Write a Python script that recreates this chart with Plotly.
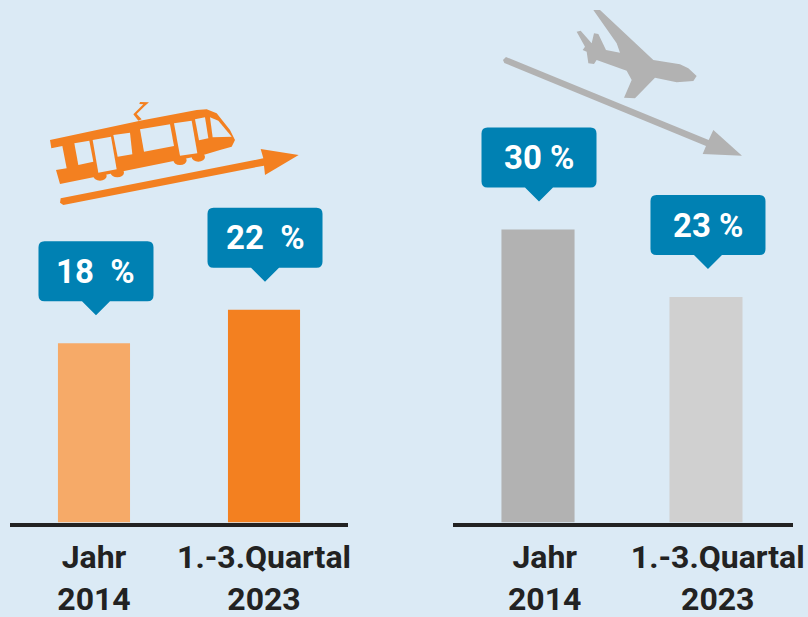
import plotly.graph_objects as go

CATEGORIES = ["Jahr<br>2014", "1.-3.Quartal<br>2023"]
RAIL_VALUES = [18.3, 21.7]
AIR_VALUES = [29.9, 23.0]
RAIL_LABELS = ["18  %", "22  %"]
AIR_LABELS = ["30 %", "23 %"]
RAIL_COLORS = ["#f6aa68", "#f38020"]
AIR_COLORS = ["#b2b2b2", "#d0d0d0"]

W, H = 808, 617
BG = "#dbeaf5"
BLUE = "#0081b3"
ORANGE = "#f38020"
GREY = "#b2b2b2"
INK = "#222222"
FONT = "Roboto"
BASE = 522.5
YMAX = BASE / 9.8


def paper(px, py):
    return px / W, 1 - py / H


def zoom_poly(points, ox, oy):
    parts = []
    for i, (zx, zy) in enumerate(points):
        x, y = paper(ox + zx / 3, oy + zy / 3)
        parts.append(("M" if i == 0 else "L") + f"{x:.5f},{y:.5f}")
    return " ".join(parts) + " Z"


def poly_shape(points, ox, oy, color):
    return dict(type="path", xref="paper", yref="paper", path=zoom_poly(points, ox, oy),
                fillcolor=color, line=dict(width=0), layer="below")


def ellipse(cx, cy, rx, ry, ox, oy, color):
    x0, y0 = paper(ox + (cx - rx) / 3, oy + (cy - ry) / 3)
    x1, y1 = paper(ox + (cx + rx) / 3, oy + (cy + ry) / 3)
    return dict(type="circle", xref="paper", yref="paper", x0=x0, x1=x1, y0=y0, y1=y1,
                fillcolor=color, line=dict(width=0), layer="below")


def callout(xref, yref, idx, value, dx):
    t, hw, r = 28, 57.5, 6
    b = t + 14
    top = b + 60
    path = (f"M{dx-hw+r},{top} L{dx+hw-r},{top} Q{dx+hw},{top} {dx+hw},{top-r} "
            f"L{dx+hw},{b+r} Q{dx+hw},{b} {dx+hw-r},{b} L{dx+14},{b} L{dx},{t} L{dx-14},{b} "
            f"L{dx-hw+r},{b} Q{dx-hw},{b} {dx-hw},{b+r} L{dx-hw},{top-r} Q{dx-hw},{top} {dx-hw+r},{top} Z")
    return dict(type="path", xref=xref, yref=yref, xsizemode="pixel", ysizemode="pixel",
                xanchor=idx, yanchor=value, path=path, fillcolor=BLUE, line=dict(width=0))


fig = go.Figure()
fig.add_trace(go.Bar(x=[0, 1], y=RAIL_VALUES, marker=dict(color=RAIL_COLORS, line=dict(width=0)),
                     width=0.424, xaxis="x", yaxis="y", showlegend=False))
fig.add_trace(go.Bar(x=[0, 1], y=AIR_VALUES, marker=dict(color=AIR_COLORS, line=dict(width=0)),
                     width=0.435, xaxis="x2", yaxis="y2", showlegend=False))

shapes = []
annotations = []
for i, (v, lab) in enumerate(zip(RAIL_VALUES, RAIL_LABELS)):
    dx = 2 if i == 0 else 1
    shapes.append(callout("x", "y", i, v, dx))
    annotations.append(dict(x=i, y=v, xref="x", yref="y", xshift=dx, yshift=72, text=lab, showarrow=False,
                            font=dict(family=FONT, size=33, color="white", weight="bold")))
for i, (v, lab) in enumerate(zip(AIR_VALUES, AIR_LABELS)):
    dx = 1 if i == 0 else 2
    shapes.append(callout("x2", "y2", i, v, dx))
    annotations.append(dict(x=i, y=v, xref="x2", yref="y2", xshift=dx, yshift=72, text=lab, showarrow=False,
                            font=dict(family=FONT, size=33, color="white", weight="bold")))

# Tram icon and rising arrow
TX, TY = 30, 90
tram = [(60, 150), (330, 92), (500, 60), (530, 58), (560, 70), (600, 120), (615, 150), (605, 170),
        (570, 180), (520, 195), (90, 282), (78, 240), (110, 235), (97, 168), (64, 175)]
panes = [
    [(133, 160), (178, 152), (190, 215), (145, 225)],
    [(188, 150), (243, 140), (260, 238), (205, 248)],
    [(250, 135), (300, 128), (307, 193), (263, 200)],
    [(330, 118), (420, 103), (432, 168), (342, 185)],
    [(432, 100), (485, 92), (502, 190), (450, 197)],
    [(495, 88), (525, 82), (535, 145), (507, 151)],
    [(540, 82), (565, 92), (605, 140), (548, 142)],
]
for cx, cy in [(210, 258), (262, 248), (450, 211), (505, 201)]:
    shapes.append(ellipse(cx, cy, 20, 14, TX, TY, ORANGE))
shapes.append(poly_shape(tram, TX, TY, ORANGE))
for p in panes:
    shapes.append(poly_shape(p, TX, TY, BG))
shapes.append(poly_shape([(325, 92), (335, 88), (320, 72), (345, 47), (357, 37), (330, 36), (328, 42),
                          (340, 43), (310, 73)], TX, TY, ORANGE))
shapes.append(poly_shape([(92, 325), (700, 205), (692, 177), (806, 195), (705, 255), (702, 227),
                          (100, 345), (90, 338)], TX, TY, ORANGE))

# Plane icon and falling arrow
PX, PY = 470, 0
plane = [(370, 30), (390, 30), (550, 180), (630, 193), (655, 205), (680, 228), (670, 243), (620, 247),
         (555, 233), (495, 295), (462, 293), (485, 240), (470, 212), (380, 180), (372, 192), (355, 190),
         (350, 155), (338, 150), (345, 140), (320, 95), (332, 92), (365, 130), (372, 100), (385, 102),
         (408, 150), (450, 158), (440, 130)]
shapes.append(poly_shape(plane, PX, PY, GREY))
shapes.append(poly_shape([(108, 171), (716, 420), (730, 390), (816, 467), (698, 462), (708, 438),
                          (103, 189), (99, 180)], PX, PY, GREY))

layout_axes = dict(
    xaxis=dict(domain=[10 / W, 348 / W], range=[-0.494, 1.494], tickmode="array", tickvals=[0, 1],
               ticktext=CATEGORIES, showgrid=False, zeroline=False, showline=True, linecolor=INK, linewidth=4,
               ticks="", ticklabelstandoff=3, tickangle=0, automargin=False,
               tickfont=dict(family=FONT, size=32, color=INK, weight="bold")),
    yaxis=dict(domain=[1 - BASE / H, 1], range=[0, YMAX], visible=False, automargin=False),
    xaxis2=dict(domain=[453 / W, 793 / W], range=[-0.506, 1.518], tickmode="array", tickvals=[0.04, 1.07],
                ticktext=CATEGORIES, showgrid=False, zeroline=False, showline=True, linecolor=INK, linewidth=4,
                ticks="", ticklabelstandoff=3, tickangle=0, automargin=False,
                tickfont=dict(family=FONT, size=32, color=INK, weight="bold"), anchor="y2"),
    yaxis2=dict(domain=[1 - BASE / H, 1], range=[0, YMAX], visible=False, anchor="x2", automargin=False),
)

fig.update_layout(width=W, height=H, autosize=False, margin=dict(l=0, r=0, t=0, b=0),
                  paper_bgcolor=BG, plot_bgcolor=BG, showlegend=False, shapes=shapes,
                  annotations=annotations, **layout_axes)

fig.write_html("out.html", config=dict(displayModeBar=False),
               post_script="document.body.style.margin='0';document.body.style.background='%s';" % BG)
